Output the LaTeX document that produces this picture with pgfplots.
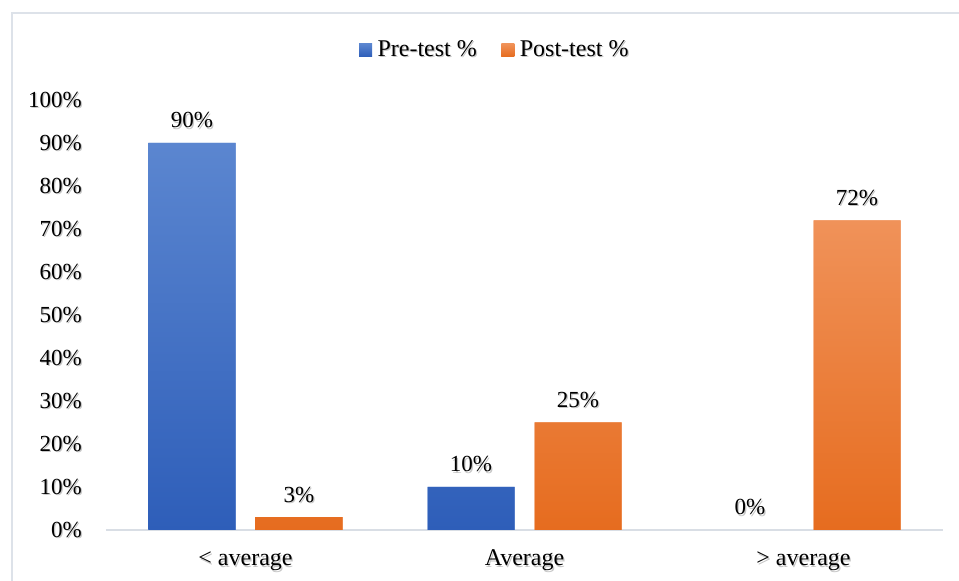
\documentclass[border=0pt]{standalone}
\usepackage{pgfplots}
\pgfplotsset{compat=1.18}
\usepackage{fontspec}
\setmainfont{Liberation Serif}

\definecolor{preTop}{HTML}{5B86D0}
\definecolor{preBot}{HTML}{2E5EB9}
\definecolor{postTop}{HTML}{F09259}
\definecolor{postBot}{HTML}{E66C1F}
\definecolor{frameGray}{HTML}{DDE2E9}
\definecolor{baseGray}{HTML}{D9DEE5}

% text with a soft grey drop shadow
\newcommand{\shd}[1]{\makebox[0pt][l]{\hspace{1.3pt}\raisebox{-1.3pt}{\textcolor{black!22}{#1}}}#1}

\begin{document}
\fontsize{23}{27}\selectfont
\begin{tikzpicture}
\useasboundingbox (0,0) rectangle (959pt,581pt);
\draw[frameGray, line width=1.5pt] (12pt,0) -- (12pt,568pt) -- (960pt,568pt);
\begin{axis}[
  at={(106pt,51pt)}, anchor=south west,
  scale only axis, width=837pt, height=430pt,
  xmin=-0.5, xmax=2.5, ymin=0, ymax=100,
  clip=false,
  ybar,
  bar width=87pt,
  axis x line*=bottom, axis y line*=left,
  x axis line style={baseGray, line width=1.5pt, -},
  y axis line style={draw=none},
  major tick length=0pt,
  /pgf/number format/assume math mode=true,
  ytick={0,10,...,100},
  yticklabel={\shd{\pgfmathprintnumber{\tick}\%}},
  yticklabel style={anchor=base east, inner sep=0pt, xshift=-24pt, yshift=-7.5pt},
  xtick={0,1,2},
  xticklabels={\shd{< average},\shd{Average},\shd{> average}},
  xticklabel style={anchor=base, inner sep=0pt, yshift=-36pt, font=\fontsize{24}{28}\selectfont},
  nodes near coords={\shd{\pgfmathprintnumber{\pgfplotspointmeta}\%}},
  nodes near coords style={anchor=base, inner sep=0pt, yshift=15pt},
  legend style={at={(0.4648,1.116)}, anchor=center, draw=none, fill=none,
    legend columns=2, inner xsep=0pt,
    font=\fontsize{24}{28}\selectfont,
    nodes={inner sep=2.5pt},
    /tikz/every odd column/.append style={column sep=3pt},
    /tikz/every even column/.append style={column sep=22pt}},
  legend cell align=left,
  legend image code/.code={\fill[#1] (0pt,-6.5pt) rectangle (13pt,6.5pt);},
]
\addplot[draw=none, fill=preTop, top color=preTop, bottom color=preBot, bar shift=-53.5pt]
  coordinates {(0,90) (1,10)};
\addlegendentry{\shd{Pre-test \%}}
\addplot[draw=none, fill=postTop, top color=postTop, bottom color=postBot, bar shift=53.5pt]
  coordinates {(0,3) (1,25) (2,72)};
\addlegendentry{\shd{Post-test \%}}
% empty pre-test group above average: label only
\addplot[draw=none, fill=none, bar shift=-53.5pt, forget plot]
  coordinates {(2,0)};
\end{axis}
\end{tikzpicture}
\end{document}
